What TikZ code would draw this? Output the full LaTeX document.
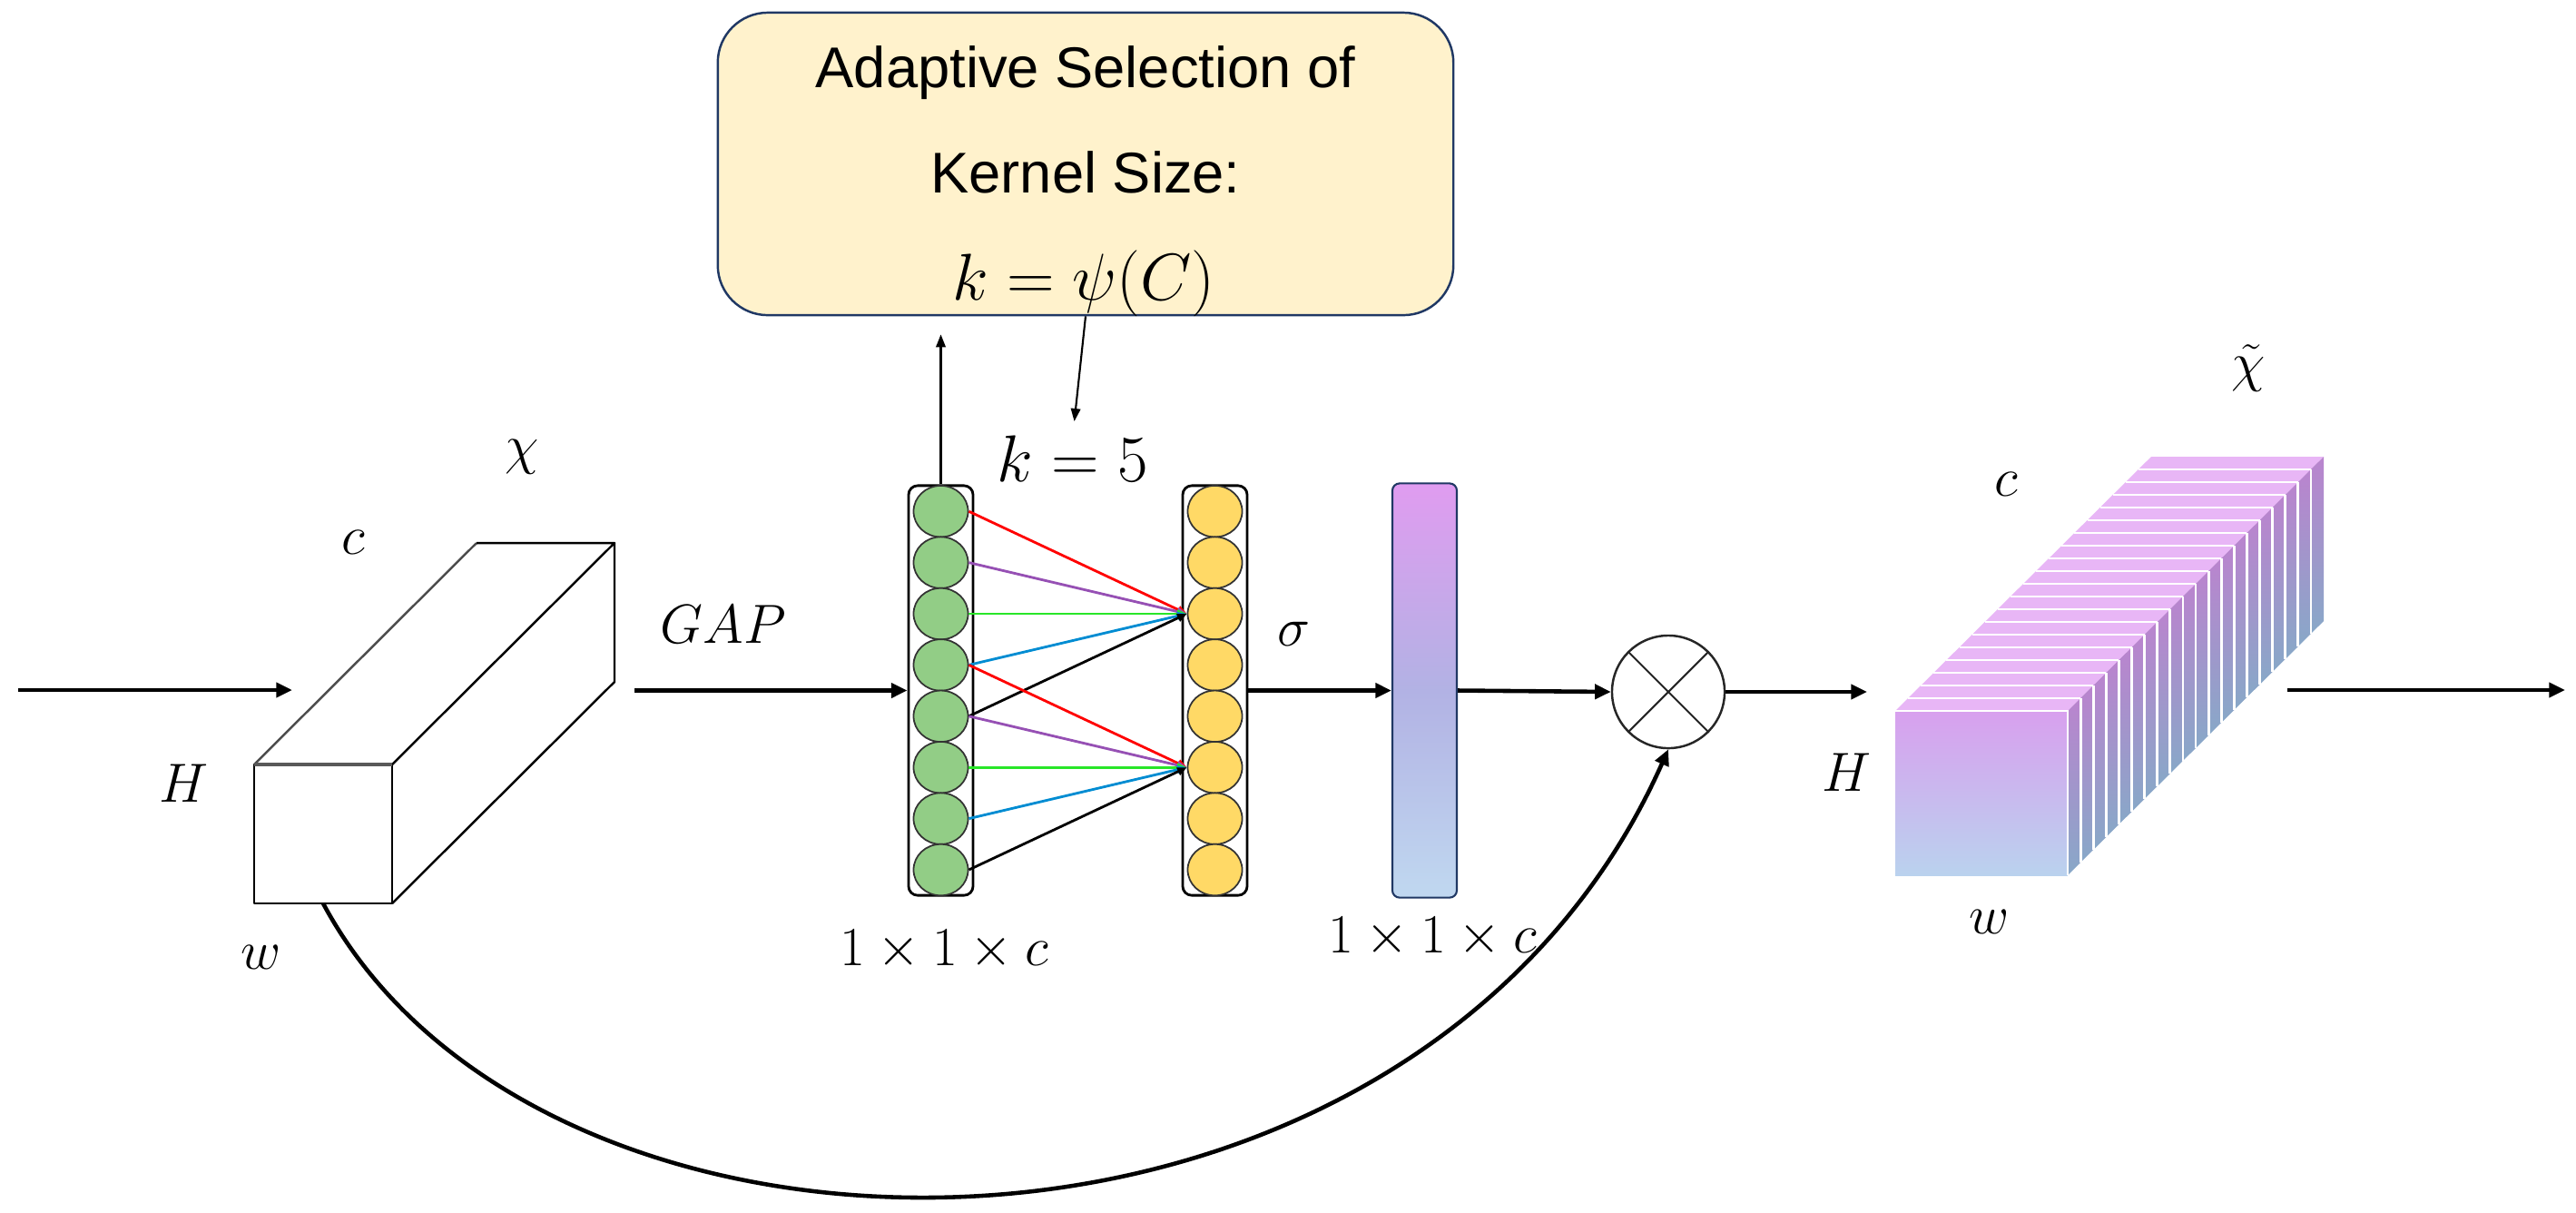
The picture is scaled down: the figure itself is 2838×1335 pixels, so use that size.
\documentclass[tikz,border=0pt]{standalone}
\usepackage[no-math]{fontspec}
\setmainfont{Liberation Sans}
\usetikzlibrary{arrows.meta,shapes.geometric,calc}
\definecolor{navy}{RGB}{32,56,100}
\definecolor{boxfill}{RGB}{255,242,204}
\definecolor{gfill}{RGB}{146,205,134}
\definecolor{yfill}{RGB}{255,217,102}
\definecolor{ptop}{RGB}{224,156,240}
\definecolor{pmid}{RGB}{178,178,228}
\definecolor{pbot}{RGB}{192,216,240}
\definecolor{lred}{RGB}{255,0,0}
\definecolor{lpurple}{RGB}{150,80,180}
\definecolor{lgreen}{RGB}{40,230,40}
\definecolor{lblue}{RGB}{0,140,210}
\definecolor{cubetop}{RGB}{232,182,246}
\definecolor{ftop}{RGB}{216,160,238}
\definecolor{fmid}{RGB}{186,178,232}
\definecolor{fbot}{RGB}{186,210,238}
\definecolor{stop}{RGB}{186,132,206}
\definecolor{sbot}{RGB}{136,168,200}
\begin{document}
\begin{tikzpicture}[x=0.01cm,y=-0.01cm,
  lab/.style={font=\fontsize{18}{21}\selectfont, inner sep=0pt},
  mainarrow/.style={line width=1.3pt,-{Triangle[length=5pt,width=4.5pt]}},
  thinarrow/.style={line width=0.6pt,-{Triangle[length=4pt,width=3pt]}},
  colline/.style={line width=0.8pt,-{Triangle[length=3pt,width=2.5pt]}},
  column/.style={draw=black,line width=0.8pt,rounded corners=0.1cm,minimum width=0.71cm,minimum height=4.51cm,inner sep=0pt},
  gcirc/.style={ellipse,draw=black!80,line width=0.5pt,fill=gfill,minimum width=0.6cm,minimum height=0.565cm,inner sep=0pt},
  ycirc/.style={ellipse,draw=black!80,line width=0.5pt,fill=yfill,minimum width=0.6cm,minimum height=0.565cm,inner sep=0pt},
  edgethree/.style={line width=0.7pt,line join=round},
  boxtext/.style={font=\fontsize{18}{21}\selectfont,anchor=base,inner sep=0pt},
]
\path[use as bounding box] (0,0) rectangle (2838,1335);

% top box
\node[draw=navy,line width=0.7pt,fill=boxfill,rounded corners=0.55cm,minimum width=8.1cm,minimum height=3.33cm,inner sep=0pt] (box) at (1196,180.5) {};
\node[boxtext] (t1) at (1196,96) {Adaptive Selection of};
\node[boxtext] (t2) at (1196,212) {Kernel Size:};
\node[font=\fontsize{20.5}{23}\selectfont,anchor=base,inner sep=0pt] (t3) at (1194,330) {$k=\psi(C)$};

% left cuboid
\draw[edgethree,fill=white] (280,842) rectangle (432,995);
\draw[edgethree,black!70] (280,842) -- (525,598);
\draw[edgethree] (525,598) -- (677,598) -- (432,842);
\draw[edgethree] (677,598) -- (677,751) -- (432,995);
\draw[line width=1pt,black!65] (280,842) -- (432,842);

% columns
\node[column] (gcol) at (1036.5,760.5) {};
\node[column] (ycol) at (1338.5,760.5) {};
\foreach \i in {1,...,8} {
  \node[gcirc] (g\i) at (1036.5,{563.2+56.4*(\i-1)}) {};
  \node[ycirc] (y\i) at (1338.5,{563.2+56.4*(\i-1)}) {};
}
\draw[colline,lred] (g1.east) -- (y3.west);
\draw[colline,lpurple] (g2.east) -- (y3.west);
\draw[colline,lgreen] (g3.east) -- (y3.west);
\draw[colline,lblue] (g4.east) -- (y3.west);
\draw[colline,black] (g5.east) -- (y3.west);
\draw[colline,lred] (g4.east) -- (y6.west);
\draw[colline,lpurple] (g5.east) -- (y6.west);
\draw[colline,lgreen] (g6.east) -- (y6.west);
\draw[colline,lblue] (g7.east) -- (y6.west);
\draw[colline,black] (g8.east) -- (y6.west);

% purple bar
\node[draw=navy,line width=0.6pt,rounded corners=0.08cm,minimum width=0.71cm,minimum height=4.56cm,inner sep=0pt,top color=ptop,bottom color=pbot,middle color=pmid] (pbar) at (1569.5,760.5) {};

% otimes
\node[circle,draw=black!85,line width=0.7pt,minimum size=1.24cm,inner sep=0pt,fill=white] (ot) at (1838,762) {};
\draw[line width=0.6pt,black!85] (ot.north west) -- (ot.south east) (ot.north east) -- (ot.south west);

% right cuboid
\fill[cubetop] (2088,783) -- (2278,783) -- (2560,503) -- (2370,503) -- cycle;
\foreach \k in {0,...,19} {
  \pgfmathsetmacro\ta{\k/20}
  \pgfmathsetmacro\tb{(\k+1)/20}
  \shade[top color=stop,bottom color=sbot] ({2278+282*\ta},{783-280*\ta}) -- ({2278+282*\tb},{783-280*\tb}) -- ({2278+282*\tb},{964-280*\tb}) -- ({2278+282*\ta},{964-280*\ta}) -- cycle;
}
\foreach \k in {1,...,19} {
  \pgfmathsetmacro\ta{\k/20}
  \draw[white,line width=0.8pt] ({2088+282*\ta},{783-280*\ta}) -- ({2278+282*\ta},{783-280*\ta});
  \draw[white,line width=0.8pt] ({2278+282*\ta},{783-280*\ta}) -- ({2278+282*\ta},{964-280*\ta});
}
\shade[top color=ftop,middle color=fmid,bottom color=fbot] (2088,783) rectangle (2278,964);
\draw[white,line width=0.8pt] (2088,783) -- (2278,783) -- (2278,964);

% main flow arrows
\coordinate (inS) at (20,760);
\coordinate (inE) at (322,760);
\draw[mainarrow] (inS) -- (inE);
\coordinate (gapS) at (699,760.5);
\draw[mainarrow] (gapS) -- (gcol.west);
\draw[mainarrow] (ycol.east) -- (pbar.west);
\draw[mainarrow] (pbar.east) -- (ot.west);
\coordinate (rcIn) at (2057,762);
\draw[mainarrow] (ot.east) -- (rcIn);
\coordinate (outS) at (2520,760);
\coordinate (outE) at (2826,760);
\draw[mainarrow] (outS) -- (outE);

% skip connection
\coordinate (cubeB) at (356,995);
\draw[line width=1.3pt,-{Triangle[length=5pt,width=4.5pt]}] (cubeB) .. controls (600,1450) and (1560,1450) .. (ot.south);

% labels
\node[lab] (lc1) at (389,597) {$c$};
\node[lab] (lchi) at (575,503) {$\chi$};
\node[lab] (lH1) at (202,863) {$H$};
\node[lab] (lw1) at (288,1054) {$w$};
\node[lab] (lgap) at (797,688) {$GAP$};
\node[lab] (lsig) at (1425,698) {$\sigma$};
\node[lab] (ldim1) at (1040,1046) {$1\times1\times c$};
\node[lab] (ldim2) at (1578,1032) {$1\times1\times c$};
\node[lab] (lc2) at (2210,533) {$c$};
\node[lab] (lchit) at (2477,405) {$\tilde{\chi}$};
\node[lab] (lH2) at (2034,851) {$H$};
\node[lab] (lw2) at (2192,1015) {$w$};
\node[font=\fontsize{21}{24}\selectfont,inner sep=0pt] (k5) at (1182,505) {$k=5$};

% arrows to/from box
\draw[thinarrow,shorten >=0.2cm] (gcol.north) -- (gcol.north |- box.south);
\draw[thinarrow,shorten >=0.15cm] (box.south) -- (k5.north);
\end{tikzpicture}
\end{document}
